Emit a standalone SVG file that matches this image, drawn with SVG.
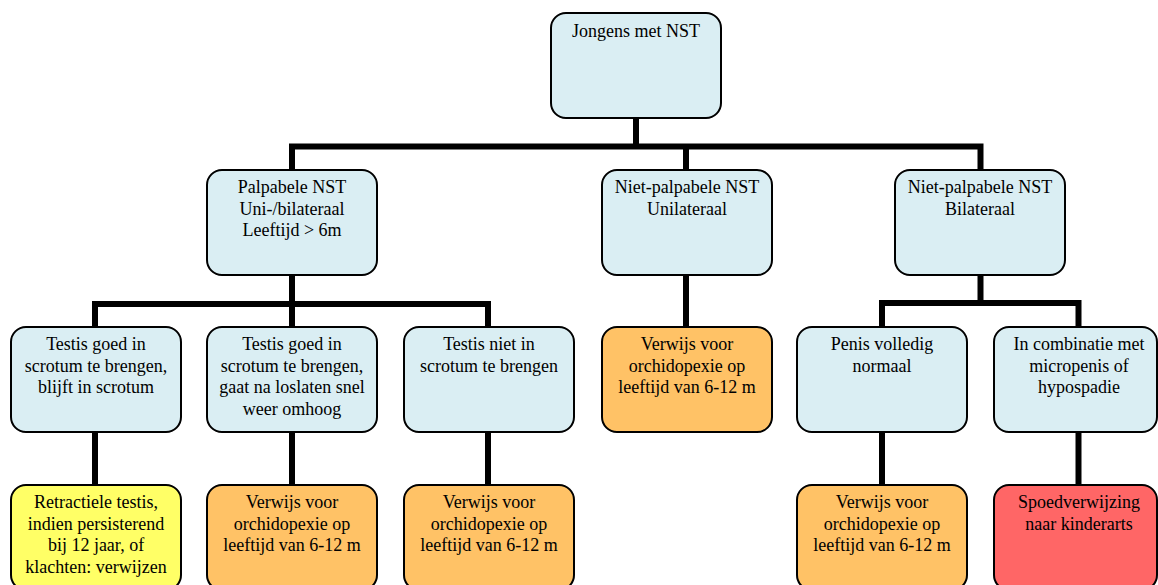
<svg xmlns="http://www.w3.org/2000/svg" width="1158" height="585" viewBox="0 0 1158 585">
<style>
.c{fill:none;stroke:#000;stroke-width:6;stroke-linejoin:miter}
.b{stroke:#000;stroke-width:2}
.blue{fill:#DAEEF3}
.yel{fill:#FFFF66}
.org{fill:#FFC266}
.red{fill:#FF6666}
text{font-family:"Liberation Serif","Times New Roman",serif;font-size:18px;fill:#000;text-anchor:middle}
</style>
<rect width="1158" height="585" fill="#fff"/>
<g id="connectors">
<path class="c" d="M636,118 V146.5"/>
<path class="c" d="M292,170 V146.5 H980.5 V170"/>
<path class="c" d="M686,146.5 V170"/>
<path class="c" d="M292,275 V304"/>
<path class="c" d="M95,327 V304 H488 V327"/>
<path class="c" d="M292,304 V327"/>
<path class="c" d="M686,275 V327"/>
<path class="c" d="M980.5,275 V303"/>
<path class="c" d="M882,327 V303 H1078.5 V327"/>
<path class="c" d="M95,432 V485"/>
<path class="c" d="M292,432 V485"/>
<path class="c" d="M488,432 V485"/>
<path class="c" d="M882,432 V485"/>
<path class="c" d="M1078.5,432 V485"/>
</g>
<g id="n-root"><rect class="b blue" x="551" y="13" width="170" height="105" rx="15"/><text x="636" y="37">Jongens met NST</text></g>
<g id="n-palpabel"><rect class="b blue" x="207" y="170" width="170" height="105" rx="15"/><text x="292" y="193">Palpabele NST</text><text x="292" y="214.5">Uni-/bilateraal</text><text x="292" y="236">Leeftijd &gt; 6m</text></g>
<g id="n-uni"><rect class="b blue" x="602" y="170" width="170" height="105" rx="15"/><text x="687" y="193">Niet-palpabele NST</text><text x="687" y="214.5">Unilateraal</text></g>
<g id="n-bi"><rect class="b blue" x="895" y="170" width="170" height="105" rx="15"/><text x="980" y="193">Niet-palpabele NST</text><text x="980" y="214.5">Bilateraal</text></g>
<g id="n-blijft"><rect class="b blue" x="11" y="327" width="170" height="105" rx="15"/><text x="96" y="350">Testis goed in</text><text x="96" y="371.5">scrotum te brengen,</text><text x="96" y="393">blijft in scrotum</text></g>
<g id="n-omhoog"><rect class="b blue" x="207" y="327" width="170" height="105" rx="15"/><text x="292" y="350">Testis goed in</text><text x="292" y="371.5">scrotum te brengen,</text><text x="292" y="393">gaat na loslaten snel</text><text x="292" y="414.5">weer omhoog</text></g>
<g id="n-niet"><rect class="b blue" x="404" y="327" width="170" height="105" rx="15"/><text x="489" y="350">Testis niet in</text><text x="489" y="371.5">scrotum te brengen</text></g>
<g id="n-uni-verwijs"><rect class="b org" x="602" y="327" width="170" height="105" rx="15"/><text x="687" y="350">Verwijs voor</text><text x="687" y="371.5">orchidopexie op</text><text x="687" y="393">leeftijd van 6-12 m</text></g>
<g id="n-penis"><rect class="b blue" x="797" y="327" width="170" height="105" rx="15"/><text x="882" y="350">Penis volledig</text><text x="882" y="371.5">normaal</text></g>
<g id="n-micro"><rect class="b blue" x="994" y="327" width="163" height="105" rx="15"/><text x="1079" y="350">In combinatie met</text><text x="1079" y="371.5">micropenis of</text><text x="1079" y="393">hypospadie</text></g>
<g id="n-retractiel"><rect class="b yel" x="11" y="485" width="170" height="105" rx="15"/><text x="96" y="508">Retractiele testis,</text><text x="96" y="529.5">indien persisterend</text><text x="96" y="551">bij 12 jaar, of</text><text x="96" y="572.5">klachten: verwijzen</text></g>
<g id="n-verwijs2"><rect class="b org" x="207" y="485" width="170" height="105" rx="15"/><text x="292" y="508">Verwijs voor</text><text x="292" y="529.5">orchidopexie op</text><text x="292" y="551">leeftijd van 6-12 m</text></g>
<g id="n-verwijs3"><rect class="b org" x="404" y="485" width="170" height="105" rx="15"/><text x="489" y="508">Verwijs voor</text><text x="489" y="529.5">orchidopexie op</text><text x="489" y="551">leeftijd van 6-12 m</text></g>
<g id="n-verwijs4"><rect class="b org" x="797" y="485" width="170" height="105" rx="15"/><text x="882" y="508">Verwijs voor</text><text x="882" y="529.5">orchidopexie op</text><text x="882" y="551">leeftijd van 6-12 m</text></g>
<g id="n-spoed"><rect class="b red" x="994" y="485" width="163" height="105" rx="15"/><text x="1079" y="508">Spoedverwijzing</text><text x="1079" y="529.5">naar kinderarts</text></g>
</svg>
